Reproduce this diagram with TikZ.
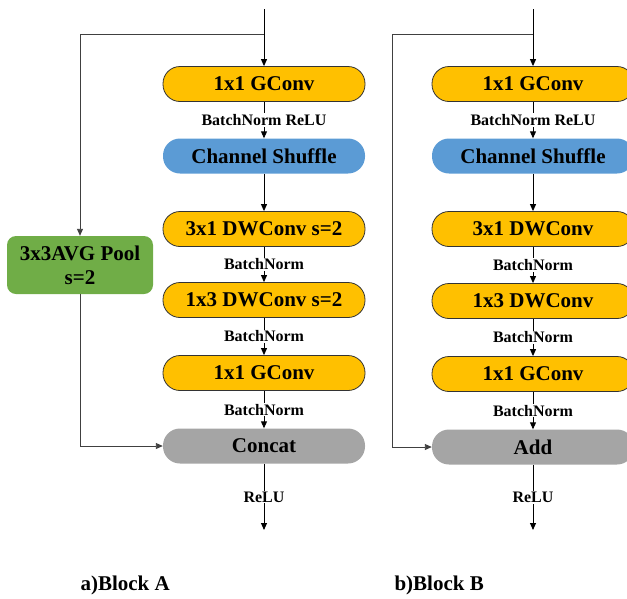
\documentclass[tikz,border=0pt]{standalone}
\usepackage{fontspec}
\setmainfont{Liberation Serif}
\usetikzlibrary{arrows.meta}
\definecolor{boxyellow}{HTML}{FFC000}
\definecolor{boxblue}{HTML}{5B9BD5}
\definecolor{boxgray}{HTML}{A5A5A5}
\definecolor{boxgreen}{HTML}{70AD47}
\definecolor{branchline}{HTML}{404040}
\tikzset{
  x=1pt, y=-1pt,
  blk/.style={rectangle, rounded corners=17pt, minimum width=202pt, minimum height=35pt,
    inner sep=0pt, font=\fontsize{21}{24}\selectfont\bfseries, text=black},
  yel/.style={blk, fill=boxyellow, draw=black!80, line width=0.8pt},
  blu/.style={blk, fill=boxblue},
  gry/.style={blk, fill=boxgray},
  grn/.style={rectangle, rounded corners=9pt, minimum width=146pt, minimum height=58pt,
    inner sep=0pt, align=center, fill=boxgreen, font=\fontsize{21}{24}\selectfont\bfseries},
  lbl/.style={fill=white, inner sep=1pt, font=\fontsize{16}{18}\selectfont\bfseries},
  captiontext/.style={font=\fontsize{21}{24}\selectfont\bfseries, anchor=west},
  arr/.style={line width=0.9pt, draw=black, -{Triangle[length=7pt,width=6pt]}},
  brr/.style={line width=0.9pt, draw=branchline, -{Triangle[length=7pt,width=6pt]}},
}
\begin{document}
\begin{tikzpicture}
\useasboundingbox (0,0) rectangle (627,598);
% ---------- Block A ----------
\coordinate (aTop) at (264,9);
\coordinate (aSplit) at (264,34);
\coordinate (aLeft) at (80,34);
\coordinate (aOut) at (264,530);
\node[yel] (a1) at (264,84) {1x1 GConv};
\node[blu] (a2) at (264,156) {Channel Shuffle};
\node[yel] (a3) at (264,229) {3x1 DWConv s=2};
\node[yel] (a4) at (264,300) {1x3 DWConv s=2};
\node[yel] (a5) at (264,373) {1x1 GConv};
\node[gry] (a6) at (264,446) {Concat};
\node[grn] (ap) at (80,265) {3x3AVG Pool\\s=2};
\draw[arr] (aTop) -- (a1);
\draw[arr] (a1) -- (a2) node[lbl, pos=0.5] {BatchNorm ReLU};
\draw[arr] (a2) -- (a3);
\draw[arr] (a3) -- (a4) node[lbl, pos=0.5] {BatchNorm};
\draw[arr] (a4) -- (a5) node[lbl, pos=0.5] {BatchNorm};
\draw[arr] (a5) -- (a6) node[lbl, pos=0.5] {BatchNorm};
\draw[arr] (a6) -- (aOut) node[lbl, pos=0.5] {ReLU};
\draw[brr] (aSplit) -- (aLeft) -- (ap);
\draw[brr] (ap) |- (a6);
\node[captiontext] (capA) at (77,585) {a)Block A};
% ---------- Block B ----------
\coordinate (bTop) at (533,9);
\coordinate (bSplit) at (533,34);
\coordinate (bLeft) at (392,34);
\coordinate (bOut) at (533,530);
\node[yel] (b1) at (533,84) {1x1 GConv};
\node[blu] (b2) at (533,156) {Channel Shuffle};
\node[yel] (b3) at (533,229) {3x1 DWConv};
\node[yel] (b4) at (533,301) {1x3 DWConv};
\node[yel] (b5) at (533,374) {1x1 GConv};
\node[gry] (b6) at (533,447) {Add};
\draw[arr] (bTop) -- (b1);
\draw[arr] (b1) -- (b2) node[lbl, pos=0.5] {BatchNorm ReLU};
\draw[arr] (b2) -- (b3);
\draw[arr] (b3) -- (b4) node[lbl, pos=0.5] {BatchNorm};
\draw[arr] (b4) -- (b5) node[lbl, pos=0.5] {BatchNorm};
\draw[arr] (b5) -- (b6) node[lbl, pos=0.5] {BatchNorm};
\draw[arr] (b6) -- (bOut) node[lbl, pos=0.5] {ReLU};
\draw[brr] (bSplit) -- (bLeft) |- (b6);
\node[captiontext] (capB) at (391,585) {b)Block B};
\end{tikzpicture}
\end{document}
